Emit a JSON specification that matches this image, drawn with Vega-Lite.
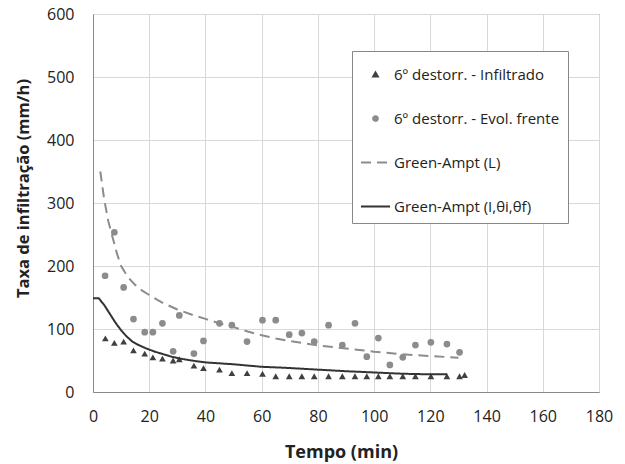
{
  "$schema": "https://vega.github.io/schema/vega-lite/v6.json",
  "width": 506,
  "height": 378,
  "autosize": {"type": "none"},
  "padding": {"left": 93, "top": 14, "right": 26, "bottom": 72},
  "background": "white",
  "config": {
    "font": "Open Sans",
    "view": {"stroke": "#898989", "strokeWidth": 1},
    "axis": {
      "gridColor": "#d9d9d9", "gridWidth": 1, "domainColor": "#898989", "domainWidth": 1,
      "ticks": false, "tickSize": 0,
      "labelFont": "Open Sans", "labelFontSize": 16, "labelColor": "#222222",
      "titleFont": "Open Sans", "titleFontWeight": "bold", "titleColor": "#222222"
    }
  },
  "datasets": {
    "obs": [
      {"t": 4.4, "v": 85, "series": "6º destorr. - Infiltrado"},
      {"t": 7.6, "v": 78, "series": "6º destorr. - Infiltrado"},
      {"t": 10.9, "v": 80, "series": "6º destorr. - Infiltrado"},
      {"t": 14.4, "v": 66, "series": "6º destorr. - Infiltrado"},
      {"t": 18.4, "v": 61, "series": "6º destorr. - Infiltrado"},
      {"t": 21.3, "v": 55, "series": "6º destorr. - Infiltrado"},
      {"t": 24.7, "v": 53, "series": "6º destorr. - Infiltrado"},
      {"t": 28.5, "v": 50, "series": "6º destorr. - Infiltrado"},
      {"t": 30.7, "v": 52, "series": "6º destorr. - Infiltrado"},
      {"t": 35.9, "v": 42, "series": "6º destorr. - Infiltrado"},
      {"t": 39.3, "v": 38, "series": "6º destorr. - Infiltrado"},
      {"t": 45, "v": 35.5, "series": "6º destorr. - Infiltrado"},
      {"t": 49.4, "v": 30, "series": "6º destorr. - Infiltrado"},
      {"t": 54.8, "v": 30, "series": "6º destorr. - Infiltrado"},
      {"t": 60.3, "v": 29, "series": "6º destorr. - Infiltrado"},
      {"t": 65, "v": 25, "series": "6º destorr. - Infiltrado"},
      {"t": 69.8, "v": 25, "series": "6º destorr. - Infiltrado"},
      {"t": 74.3, "v": 25, "series": "6º destorr. - Infiltrado"},
      {"t": 78.7, "v": 25, "series": "6º destorr. - Infiltrado"},
      {"t": 83.8, "v": 25, "series": "6º destorr. - Infiltrado"},
      {"t": 88.7, "v": 25, "series": "6º destorr. - Infiltrado"},
      {"t": 93.2, "v": 25, "series": "6º destorr. - Infiltrado"},
      {"t": 97.4, "v": 25, "series": "6º destorr. - Infiltrado"},
      {"t": 101.5, "v": 25, "series": "6º destorr. - Infiltrado"},
      {"t": 105.6, "v": 25, "series": "6º destorr. - Infiltrado"},
      {"t": 110.2, "v": 25, "series": "6º destorr. - Infiltrado"},
      {"t": 114.7, "v": 25, "series": "6º destorr. - Infiltrado"},
      {"t": 120.2, "v": 25, "series": "6º destorr. - Infiltrado"},
      {"t": 125.9, "v": 25, "series": "6º destorr. - Infiltrado"},
      {"t": 130.4, "v": 25, "series": "6º destorr. - Infiltrado"},
      {"t": 132.2, "v": 27, "series": "6º destorr. - Infiltrado"},
      {"t": 4.3, "v": 184.5, "series": "6º destorr. - Evol. frente"},
      {"t": 7.6, "v": 253.6, "series": "6º destorr. - Evol. frente"},
      {"t": 10.9, "v": 166, "series": "6º destorr. - Evol. frente"},
      {"t": 14.4, "v": 115.7, "series": "6º destorr. - Evol. frente"},
      {"t": 18.4, "v": 95, "series": "6º destorr. - Evol. frente"},
      {"t": 21.3, "v": 95, "series": "6º destorr. - Evol. frente"},
      {"t": 24.7, "v": 109, "series": "6º destorr. - Evol. frente"},
      {"t": 28.5, "v": 64.5, "series": "6º destorr. - Evol. frente"},
      {"t": 30.7, "v": 121.5, "series": "6º destorr. - Evol. frente"},
      {"t": 35.9, "v": 61, "series": "6º destorr. - Evol. frente"},
      {"t": 39.3, "v": 81, "series": "6º destorr. - Evol. frente"},
      {"t": 45, "v": 109, "series": "6º destorr. - Evol. frente"},
      {"t": 49.4, "v": 106, "series": "6º destorr. - Evol. frente"},
      {"t": 54.8, "v": 80, "series": "6º destorr. - Evol. frente"},
      {"t": 60.3, "v": 114, "series": "6º destorr. - Evol. frente"},
      {"t": 65, "v": 114, "series": "6º destorr. - Evol. frente"},
      {"t": 69.8, "v": 91, "series": "6º destorr. - Evol. frente"},
      {"t": 74.3, "v": 93.5, "series": "6º destorr. - Evol. frente"},
      {"t": 78.7, "v": 80, "series": "6º destorr. - Evol. frente"},
      {"t": 83.8, "v": 106, "series": "6º destorr. - Evol. frente"},
      {"t": 88.7, "v": 74.5, "series": "6º destorr. - Evol. frente"},
      {"t": 93.2, "v": 109, "series": "6º destorr. - Evol. frente"},
      {"t": 97.4, "v": 56, "series": "6º destorr. - Evol. frente"},
      {"t": 101.5, "v": 85.6, "series": "6º destorr. - Evol. frente"},
      {"t": 105.6, "v": 43, "series": "6º destorr. - Evol. frente"},
      {"t": 110.2, "v": 55, "series": "6º destorr. - Evol. frente"},
      {"t": 114.7, "v": 74.5, "series": "6º destorr. - Evol. frente"},
      {"t": 120.2, "v": 78.8, "series": "6º destorr. - Evol. frente"},
      {"t": 125.9, "v": 76, "series": "6º destorr. - Evol. frente"},
      {"t": 130.4, "v": 63, "series": "6º destorr. - Evol. frente"}
    ],
    "model": [
      {"t": 2.6, "v": 350, "series": "Green-Ampt (L)"},
      {"t": 4, "v": 305, "series": "Green-Ampt (L)"},
      {"t": 5.5, "v": 270, "series": "Green-Ampt (L)"},
      {"t": 7, "v": 245, "series": "Green-Ampt (L)"},
      {"t": 8.5, "v": 220, "series": "Green-Ampt (L)"},
      {"t": 10, "v": 200, "series": "Green-Ampt (L)"},
      {"t": 12.5, "v": 182, "series": "Green-Ampt (L)"},
      {"t": 15, "v": 170, "series": "Green-Ampt (L)"},
      {"t": 17.5, "v": 161, "series": "Green-Ampt (L)"},
      {"t": 20, "v": 154, "series": "Green-Ampt (L)"},
      {"t": 25, "v": 141, "series": "Green-Ampt (L)"},
      {"t": 30, "v": 131, "series": "Green-Ampt (L)"},
      {"t": 35, "v": 123, "series": "Green-Ampt (L)"},
      {"t": 40, "v": 116, "series": "Green-Ampt (L)"},
      {"t": 45, "v": 109, "series": "Green-Ampt (L)"},
      {"t": 50, "v": 103, "series": "Green-Ampt (L)"},
      {"t": 55, "v": 96, "series": "Green-Ampt (L)"},
      {"t": 60, "v": 90, "series": "Green-Ampt (L)"},
      {"t": 65, "v": 85, "series": "Green-Ampt (L)"},
      {"t": 70, "v": 81, "series": "Green-Ampt (L)"},
      {"t": 80, "v": 74, "series": "Green-Ampt (L)"},
      {"t": 90, "v": 69, "series": "Green-Ampt (L)"},
      {"t": 100, "v": 64, "series": "Green-Ampt (L)"},
      {"t": 110, "v": 60, "series": "Green-Ampt (L)"},
      {"t": 120, "v": 57, "series": "Green-Ampt (L)"},
      {"t": 130, "v": 54.5, "series": "Green-Ampt (L)"},
      {"t": 0, "v": 149, "series": "Green-Ampt (I,θi,θf)"},
      {"t": 2, "v": 149, "series": "Green-Ampt (I,θi,θf)"},
      {"t": 4, "v": 138, "series": "Green-Ampt (I,θi,θf)"},
      {"t": 6, "v": 124, "series": "Green-Ampt (I,θi,θf)"},
      {"t": 8, "v": 110, "series": "Green-Ampt (I,θi,θf)"},
      {"t": 10, "v": 98, "series": "Green-Ampt (I,θi,θf)"},
      {"t": 12, "v": 88, "series": "Green-Ampt (I,θi,θf)"},
      {"t": 14, "v": 80, "series": "Green-Ampt (I,θi,θf)"},
      {"t": 16, "v": 75, "series": "Green-Ampt (I,θi,θf)"},
      {"t": 19, "v": 69, "series": "Green-Ampt (I,θi,θf)"},
      {"t": 22, "v": 64, "series": "Green-Ampt (I,θi,θf)"},
      {"t": 25, "v": 60, "series": "Green-Ampt (I,θi,θf)"},
      {"t": 28, "v": 56, "series": "Green-Ampt (I,θi,θf)"},
      {"t": 31, "v": 53, "series": "Green-Ampt (I,θi,θf)"},
      {"t": 35, "v": 50, "series": "Green-Ampt (I,θi,θf)"},
      {"t": 40, "v": 47, "series": "Green-Ampt (I,θi,θf)"},
      {"t": 45, "v": 45.5, "series": "Green-Ampt (I,θi,θf)"},
      {"t": 50, "v": 44, "series": "Green-Ampt (I,θi,θf)"},
      {"t": 55, "v": 42, "series": "Green-Ampt (I,θi,θf)"},
      {"t": 60, "v": 40, "series": "Green-Ampt (I,θi,θf)"},
      {"t": 68, "v": 38.5, "series": "Green-Ampt (I,θi,θf)"},
      {"t": 80, "v": 35.5, "series": "Green-Ampt (I,θi,θf)"},
      {"t": 90, "v": 33, "series": "Green-Ampt (I,θi,θf)"},
      {"t": 100, "v": 31, "series": "Green-Ampt (I,θi,θf)"},
      {"t": 110, "v": 29, "series": "Green-Ampt (I,θi,θf)"},
      {"t": 120, "v": 28, "series": "Green-Ampt (I,θi,θf)"},
      {"t": 126, "v": 28, "series": "Green-Ampt (I,θi,θf)"}
    ]
  },
  "encoding": {
    "x": {
      "field": "t", "type": "quantitative",
      "scale": {"domain": [0, 180], "nice": false, "zero": false},
      "axis": {"values": [0, 20, 40, 60, 80, 100, 120, 140, 160, 180], "title": "Tempo (min)", "titleFontSize": 18, "titleX": 248, "labelPadding": 16, "titlePadding": 19, "grid": true, "labelFlush": false}
    },
    "y": {
      "field": "v", "type": "quantitative",
      "scale": {"domain": [0, 600], "nice": false},
      "axis": {"values": [0, 100, 200, 300, 400, 500, 600], "title": "Taxa de infiltração (mm/h)", "titleFontSize": 16.5, "titleY": 174, "labelPadding": 19, "titlePadding": 15, "grid": true, "labelFlush": false}
    },
    "color": {
      "field": "series", "type": "nominal",
      "scale": {
        "domain": ["6º destorr. - Infiltrado", "6º destorr. - Evol. frente", "Green-Ampt (L)", "Green-Ampt (I,θi,θf)"],
        "range": ["#404040", "#8c8c8c", "#8c8c8c", "#333333"]
      },
      "legend": {
        "title": null,
        "orient": "none",
        "legendX": 259,
        "legendY": 37,
        "padding": 8,
        "strokeColor": "#888888",
        "fillColor": "white",
        "labelFont": "Open Sans",
        "labelFontSize": 15,
        "labelColor": "#222222",
        "labelLimit": 300,
        "rowPadding": 20,
        "symbolSize": 841,
        "symbolOffset": 0,
        "labelOffset": 3,
        "encode": {
          "symbols": {
            "update": {
              "shape": {"signal": "datum.index === 0 ? 'triangle-up' : datum.index === 1 ? 'circle' : 'stroke'"},
              "size": {"signal": "datum.index < 2 ? 22 : 841"},
              "fill": {"signal": "datum.index === 0 ? '#404040' : datum.index === 1 ? '#8c8c8c' : 'transparent'"},
              "stroke": {"signal": "datum.index === 2 ? '#8c8c8c' : datum.index === 3 ? '#333333' : 'transparent'"},
              "strokeWidth": {"value": 2},
              "strokeDash": {"signal": "datum.index === 2 ? [10, 6] : [1, 0]"},
              "opacity": {"value": 1}
            }
          }
        }
      }
    }
  },
  "layer": [
    {
      "data": {"name": "obs"},
      "mark": {"type": "point", "filled": true, "opacity": 1, "size": 45},
      "encoding": {
        "shape": {
          "field": "series", "type": "nominal",
          "scale": {
            "domain": ["6º destorr. - Infiltrado", "6º destorr. - Evol. frente", "Green-Ampt (L)", "Green-Ampt (I,θi,θf)"],
            "range": ["triangle-up", "circle", "stroke", "stroke"]
          },
          "legend": null
        }
      }
    },
    {
      "data": {"name": "model"},
      "mark": {"type": "line", "strokeWidth": 2},
      "encoding": {
        "strokeDash": {
          "field": "series", "type": "nominal",
          "scale": {
            "domain": ["6º destorr. - Infiltrado", "6º destorr. - Evol. frente", "Green-Ampt (L)", "Green-Ampt (I,θi,θf)"],
            "range": [[1, 0], [1, 0], [10, 6], [1, 0]]
          },
          "legend": null
        }
      }
    }
  ]
}
